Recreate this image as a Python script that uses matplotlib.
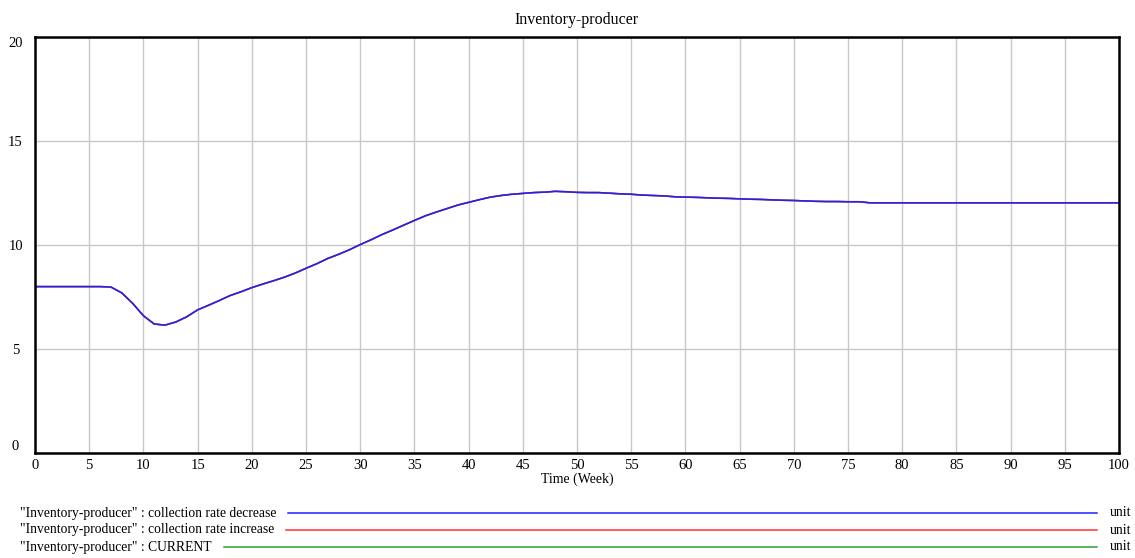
import matplotlib
matplotlib.use("Agg")
import matplotlib.pyplot as plt
from matplotlib.lines import Line2D

plt.rcParams['font.family'] = ['Liberation Serif', 'DejaVu Serif']

title = "Inventory-producer"
x_label = "Time (Week)"
weeks = list(range(0, 101))
inventory = [8.0, 8.0, 8.0, 8.0, 8.0, 8.0, 8.0, 7.98, 7.7, 7.2,
             6.6, 6.2, 6.15, 6.3, 6.55, 6.88, 7.1, 7.33, 7.57, 7.75,
             7.95, 8.12, 8.28, 8.45, 8.65, 8.88, 9.1, 9.35, 9.55, 9.77,
             10.02, 10.25, 10.5, 10.72, 10.95, 11.18, 11.4, 11.58, 11.75, 11.92,
             12.05, 12.18, 12.3, 12.38, 12.44, 12.48, 12.52, 12.54, 12.58, 12.56,
             12.53, 12.52, 12.52, 12.49, 12.46, 12.44, 12.4, 12.38, 12.36, 12.32,
             12.3, 12.29, 12.27, 12.25, 12.24, 12.22, 12.2, 12.19, 12.17, 12.15,
             12.14, 12.12, 12.1, 12.09, 12.09, 12.08, 12.08] + [12.03] * 24
rate_decrease = inventory
rate_increase = inventory
current = inventory
series_names = ['"Inventory-producer" : collection rate decrease',
                '"Inventory-producer" : collection rate increase',
                '"Inventory-producer" : CURRENT']
series_values = [rate_decrease, rate_increase, current]
series_colors = ['#2020ff', '#ff3030', '#30a030']
unit_label = "unit"
x_ticks = list(range(0, 101, 5))
y_ticks = [0, 5, 10, 15, 20]

fig = plt.figure(figsize=(11.35, 5.58), dpi=100)
ax = fig.add_axes([35/1135, 1 - 453/558, (1119 - 35)/1135, (453 - 37)/558])

for vals, col in reversed(list(zip(series_values, series_colors))):
    ax.plot(weeks, vals, color=col, lw=1.1)

ax.set_xlim(0, 100)
ax.set_ylim(0, 20)
ax.set_xticks(x_ticks)
ax.set_yticks(y_ticks)
ax.grid(True, color='#c8c8c8', lw=1)
ax.set_axisbelow(True)
for s in ax.spines.values():
    s.set_linewidth(1.8)
    s.set_color('black')
ax.tick_params(length=0, labelsize=10.5, pad=4)
ax.tick_params(axis='y', pad=14)
for lab in ax.get_yticklabels():
    lab.set_horizontalalignment('center')
ylabs = ax.get_yticklabels()
ylabs[0].set_verticalalignment('bottom')
ylabs[-1].set_verticalalignment('top')
ax.set_xlabel(x_label, fontsize=10, labelpad=1)
ax.set_title(title, fontsize=11.5, pad=9)

fig.canvas.draw()
renderer = fig.canvas.get_renderer()
rows_y = [513, 530, 547]
for name, col, yp in zip(series_names, series_colors, rows_y):
    yf = 1 - yp / 558
    t = fig.text(20/1135, yf, name, fontsize=9.85, va='center', ha='left')
    bb = t.get_window_extent(renderer)
    x0 = (bb.x1 + 12) / 1135
    fig.add_artist(Line2D([x0, 1097/1135], [yf, yf], color=col, lw=1.1,
                          transform=fig.transFigure))
    fig.text(1110/1135, yf, unit_label, fontsize=9.85, va='center', ha='left')

fig.savefig("out.png", dpi=100)
